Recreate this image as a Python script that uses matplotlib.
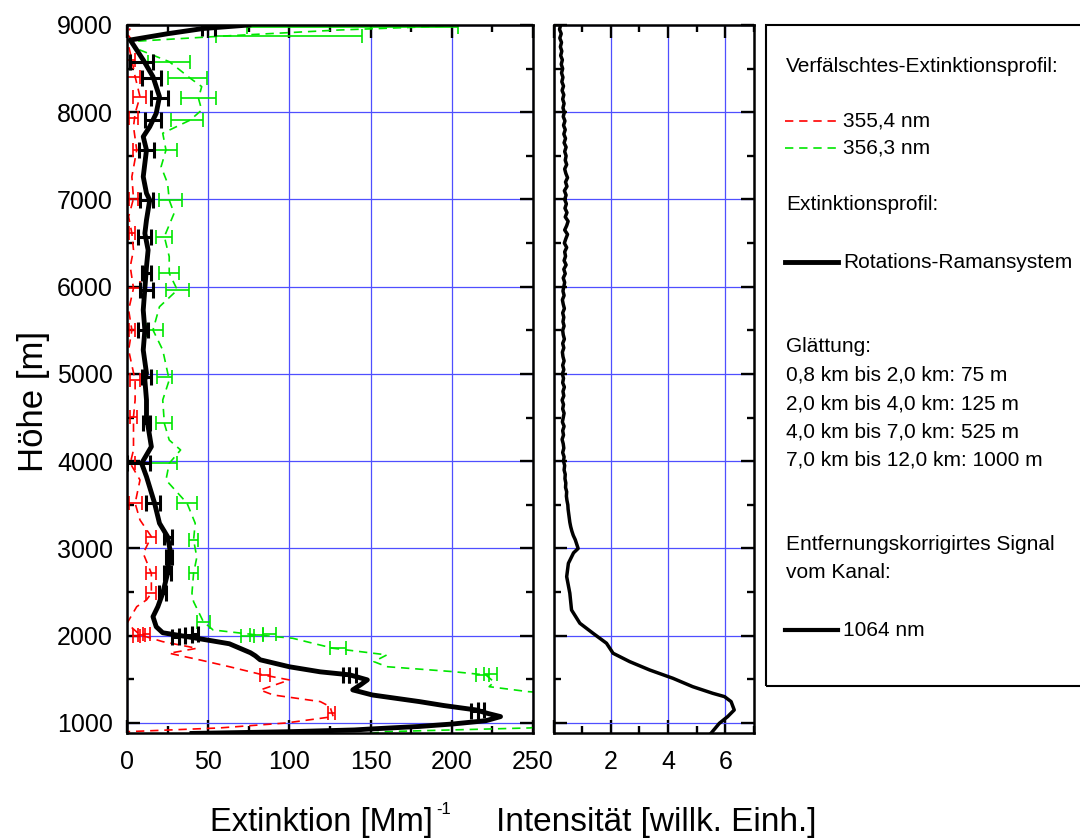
import numpy as np
import matplotlib.pyplot as plt
from matplotlib.ticker import MultipleLocator
from matplotlib.patches import Rectangle
from matplotlib.lines import Line2D

plt.rcParams['font.family'] = ['Liberation Sans', 'DejaVu Sans']

# --- Extinktionsprofil Rotations-Ramansystem (schwarz) ---
rr_alt = [880, 900, 920, 931, 960, 989, 1026, 1073, 1110, 1149,
          1200, 1245, 1321, 1379, 1440, 1494, 1552, 1586, 1644, 1724,
          1770, 1805, 1908, 1977, 2034, 2103, 2218, 2333, 2487, 2716,
          2983, 3135, 3289, 3518, 3823, 3976, 4167, 4511, 4702, 4931,
          5008, 5275, 5504, 5733, 5982, 6230, 6421, 6612, 6765, 6994,
          7071, 7261, 7415, 7567, 7720, 7834, 7988, 8178, 8408, 8599,
          8828, 8900, 8960, 9000]
rr_val = [40, 100, 140, 150, 180, 201, 221, 230, 222, 215,
          195, 180, 151, 139, 144, 148, 137, 119, 100, 82,
          79, 76, 63, 41, 22, 18, 16, 19, 22, 25,
          26.5, 25, 20, 17, 12, 9, 15, 12, 12, 11,
          12, 10, 11, 10, 11, 12, 13, 11, 12, 14,
          12, 10, 11, 12, 10, 14, 18, 20, 16, 10,
          2, 25, 47, 75]
rr_eb_alt = [1140, 1150, 1545, 1555, 1990, 2000, 2010, 2020, 2487, 2716, 2900, 3135, 3518,
             3976, 4434, 4969, 5504, 5963, 6154, 6574, 6994, 7567, 7911, 8160, 8389, 8580, 8965]
rr_eb_val = [214, 218, 135, 139, 30, 34, 38, 42, 22, 25, 26, 25, 16,
             7, 12, 12, 10, 12, 12, 11, 12, 12, 16, 20, 15, 9, 50]
rr_eb_err = [2, 2, 2, 2, 2, 2, 2, 2, 2, 2, 2, 2.5, 4.5,
             7, 2, 3, 3, 4, 3, 4, 4, 4.5, 5, 5, 6, 7, 4]

# --- 355,4 nm (rot) ---
red_alt = [880, 900, 943, 1000, 1073, 1187, 1245, 1321, 1378, 1493,
           1550, 1645, 1722, 1799, 1856, 1932, 2009, 2143, 2333, 2410,
           2487, 2716, 2944, 3135, 3327, 3518, 3785, 3976, 4129, 4511,
           4702, 4931, 5100, 5275, 5504, 5733, 5982, 6230, 6421, 6612,
           6803, 7011, 7261, 7567, 7834, 7988, 8178, 8408, 8599, 8760,
           8828, 8900, 8960]
red_val = [-3, 0, 57, 98, 127, 125, 119, 90, 82, 100,
           84, 63, 45, 26, 43, 22, 8, 0, 6, 12,
           15, 15, 10, 15, 8, 5, 8, 2, 4, 4,
           5, 5, 3, 1, 3, 1, 4, 2, 4, 3,
           1, 4, 3, 6, 4, 5, 8, 5, 3, 1,
           3, 0, 2]
red_eb_alt = [1115, 1550, 2000, 2010, 2020, 2487, 2716, 3135, 3518, 3976, 4511,
              4931, 5504, 5982, 6612, 7011, 7567, 7934, 8178, 8408, 8599]
red_eb_val = [126, 85, 6, 9, 12, 15, 15, 15, 5, 2, 4, 5, 3, 4, 3, 4, 6, 4, 8, 4, 2]
red_eb_err = [2, 3, 2, 2, 2, 3, 3, 3, 4, 3, 2, 3, 2, 4, 2, 3, 2, 3, 4, 4, 3]

# --- 356,3 nm (grün) ---
green_alt = [880, 900, 943, 1000, 1200, 1340, 1359, 1416, 1470, 1550,
             1588, 1645, 1703, 1780, 1856, 1971, 2009, 2066, 2161, 2390,
             2487, 2716, 2900, 3097, 3289, 3518, 3785, 3976, 4129, 4243,
             4434, 4702, 4931, 5275, 5504, 5771, 5963, 6154, 6345, 6574,
             6842, 6994, 7185, 7376, 7567, 7759, 7911, 8026, 8160, 8294,
             8389, 8580, 8713, 8810, 8874, 8943, 8990]
green_val = [150, 158, 248, 275, 295, 262, 247, 223, 226, 221,
             201, 160, 152, 160, 127, 102, 80, 53, 47, 41,
             40, 41, 43, 41, 42, 37, 24, 26, 33, 26,
             23, 22, 26, 22, 16, 20, 31, 26, 26, 23,
             29, 26, 25, 21, 24, 22, 39, 46, 44, 46,
             39, 26, 8, 2, 60, 131, 200]
green_eb_alt = [1550, 1565, 1856, 1995, 2005, 2015, 2161, 2716, 3097, 3518, 3976, 4434, 4969,
                5504, 5963, 6154, 6574, 6994, 7567, 7911, 8160, 8389, 8580, 8874, 8981]
green_eb_val = [219, 224, 130, 74, 80, 88, 47, 41, 41, 37, 23, 23, 23,
                17, 31, 26, 23, 27, 24, 37, 44, 37, 26, 100, 139]
green_eb_err = [4, 4, 5, 4, 4, 4, 4, 3, 3, 6, 8, 5, 4.5,
                5, 7, 6, 5, 7, 7, 10, 11, 12, 13, 45, 65]

# --- 1064 nm Signal ---
sig_alt_low = [882, 996, 1073, 1149, 1245, 1302, 1340, 1416, 1512, 1607,
               1703, 1799, 1914, 2028, 2143, 2295, 2487, 2677, 2830, 2950]
sig_val_low = [5.50, 5.79, 6.08, 6.31, 6.20, 5.97, 5.56, 4.86, 4.17, 3.36,
               2.66, 2.08, 1.85, 1.38, 0.92, 0.63, 0.57, 0.46, 0.52, 0.70]
sig_alt_high = np.arange(3000, 9001, 50)
sig_val_high = [0.86, 0.81, 0.76, 0.69, 0.64, 0.60, 0.57, 0.55, 0.53, 0.51, 0.50,
                0.47, 0.45, 0.46, 0.42, 0.43, 0.40, 0.41, 0.37, 0.39, 0.35,
                0.37, 0.32, 0.36, 0.34, 0.30, 0.35, 0.32, 0.37, 0.31, 0.34,
                0.37, 0.32, 0.35, 0.30, 0.36, 0.33, 0.38, 0.32, 0.35, 0.31,
                0.36, 0.32, 0.37, 0.33, 0.31, 0.36, 0.32, 0.38, 0.34, 0.32,
                0.37, 0.33, 0.36, 0.32, 0.38, 0.34, 0.31, 0.37, 0.33, 0.36,
                0.39, 0.34, 0.41, 0.36, 0.44, 0.37, 0.42, 0.39, 0.46, 0.38,
                0.43, 0.49, 0.39, 0.46, 0.51, 0.41, 0.47, 0.40, 0.45, 0.39,
                0.44, 0.38, 0.47, 0.42, 0.49, 0.43, 0.39, 0.46, 0.41, 0.44,
                0.39, 0.44, 0.37, 0.42, 0.36, 0.41, 0.35, 0.40, 0.34, 0.38,
                0.33, 0.37, 0.32, 0.36, 0.30, 0.35, 0.29, 0.33, 0.28, 0.32,
                0.27, 0.31, 0.25, 0.29, 0.24, 0.28, 0.22, 0.27, 0.21, 0.25]

legend_head = ['Verfälschtes-Extinktionsprofil:', 'Extinktionsprofil:']
legend_labels = ['355,4 nm', '356,3 nm', 'Rotations-Ramansystem', '1064 nm']
smooth_lines = ['Glättung:', '0,8 km bis 2,0 km: 75 m', '2,0 km bis 4,0 km: 125 m',
                '4,0 km bis 7,0 km: 525 m', '7,0 km bis 12,0 km: 1000 m']
signal_head = ['Entfernungskorrigirtes Signal', 'vom Kanal:']

RED = '#ff0000'
GREEN = '#00e600'
GRID = '#4f4fff'

W, H = 1080, 839
fig = plt.figure(figsize=(W / 100, H / 100), dpi=100)
ax1 = fig.add_axes([127 / W, 1 - 733 / H, 406 / W, 708 / H])
ax2 = fig.add_axes([553.5 / W, 1 - 733 / H, 200.5 / W, 708 / H])

# left panel
ax1.plot(red_val, red_alt, color=RED, lw=1.2, dashes=(5, 3.5))
ax1.errorbar(red_eb_val, red_eb_alt, xerr=red_eb_err, fmt='none', ecolor=RED,
             elinewidth=1.2, capsize=5, capthick=1.2)
ax1.plot(green_val, green_alt, color=GREEN, lw=1.2, dashes=(5, 3.5))
ax1.errorbar(green_eb_val, green_eb_alt, xerr=green_eb_err, fmt='none', ecolor=GREEN,
             elinewidth=1.2, capsize=5, capthick=1.2)
ax1.plot(rr_val, rr_alt, color='black', lw=3.5, solid_joinstyle='round')
ax1.errorbar(rr_eb_val, rr_eb_alt, xerr=rr_eb_err, fmt='none', ecolor='black',
             elinewidth=2.2, capsize=6, capthick=2.2)
ax1.set_xlim(0, 250)
ax1.xaxis.set_major_locator(MultipleLocator(50))
ax1.xaxis.set_minor_locator(MultipleLocator(25))

# right panel
sig_alt = list(sig_alt_low) + list(sig_alt_high)
sig_val = list(sig_val_low) + list(sig_val_high)
ax2.plot(sig_val, sig_alt, color='black', lw=2.5)
ax2.set_xlim(0, 7)
ax2.set_xticks([0, 2, 4, 6])
ax2.set_xticklabels(['', '2', '4', '6'])
ax2.xaxis.set_minor_locator(MultipleLocator(1))
ax2.tick_params(labelleft=False)

for ax in (ax1, ax2):
    ax.set_ylim(885, 9000)
    ax.yaxis.set_major_locator(MultipleLocator(1000))
    ax.yaxis.set_minor_locator(MultipleLocator(500))
    ax.set_axisbelow(True)
    ax.grid(True, which='major', color=GRID, lw=0.9)
    ax.tick_params(which='both', direction='in', top=True, right=True, width=1.7,
                   labelsize=18)
    ax.tick_params(which='major', length=9.5)
    ax.tick_params(which='minor', length=5)
    ax.tick_params(axis='x', pad=12)
    ax.tick_params(axis='y', pad=10)
    for s in ax.spines.values():
        s.set_linewidth(1.8)

fig.text(33 / W, 1 - 401 / H, 'Höhe [m]', rotation=90, fontsize=25, ha='center', va='center')
fig.text(321 / W, 1 - 822 / H, 'Extinktion [Mm]', fontsize=23.5, ha='center', va='center')
fig.text(436 / W, 1 - 809 / H, '-1', fontsize=12, ha='left', va='center')
fig.text(656 / W, 1 - 822 / H, 'Intensität [willk. Einh.]', fontsize=24, ha='center', va='center')

# legend box
fig.add_artist(Rectangle((766 / W, 1 - 686 / H), 0.4, 661 / H, transform=fig.transFigure,
                         fill=False, ec='black', lw=1.5))
fs = 15
tx = 786 / W
lx = [785 / W, 838 / W]
fig.text(tx, 1 - 66 / H, legend_head[0], fontsize=fs, va='center')
fig.add_artist(Line2D(lx, [1 - 121 / H] * 2, transform=fig.transFigure, color=RED, lw=1.2, dashes=(5, 3.5)))
fig.text(843 / W, 1 - 121 / H, legend_labels[0], fontsize=fs, va='center')
fig.add_artist(Line2D(lx, [1 - 148 / H] * 2, transform=fig.transFigure, color=GREEN, lw=1.2, dashes=(5, 3.5)))
fig.text(843 / W, 1 - 148 / H, legend_labels[1], fontsize=fs, va='center')
fig.text(tx, 1 - 205 / H, legend_head[1], fontsize=fs, va='center')
fig.add_artist(Line2D(lx, [1 - 262 / H] * 2, transform=fig.transFigure, color='black', lw=3.5))
fig.text(843 / W, 1 - 262 / H, legend_labels[2], fontsize=fs, va='center')
for i, s in enumerate(smooth_lines):
    fig.text(tx, 1 - (347 + 28.3 * i) / H, s, fontsize=fs, va='center')
fig.text(tx, 1 - 545 / H, signal_head[0], fontsize=fs, va='center')
fig.text(tx, 1 - 573 / H, signal_head[1], fontsize=fs, va='center')
fig.add_artist(Line2D(lx, [1 - 630 / H] * 2, transform=fig.transFigure, color='black', lw=3))
fig.text(843 / W, 1 - 630 / H, legend_labels[3], fontsize=fs, va='center')

fig.savefig('out.png', dpi=100)
